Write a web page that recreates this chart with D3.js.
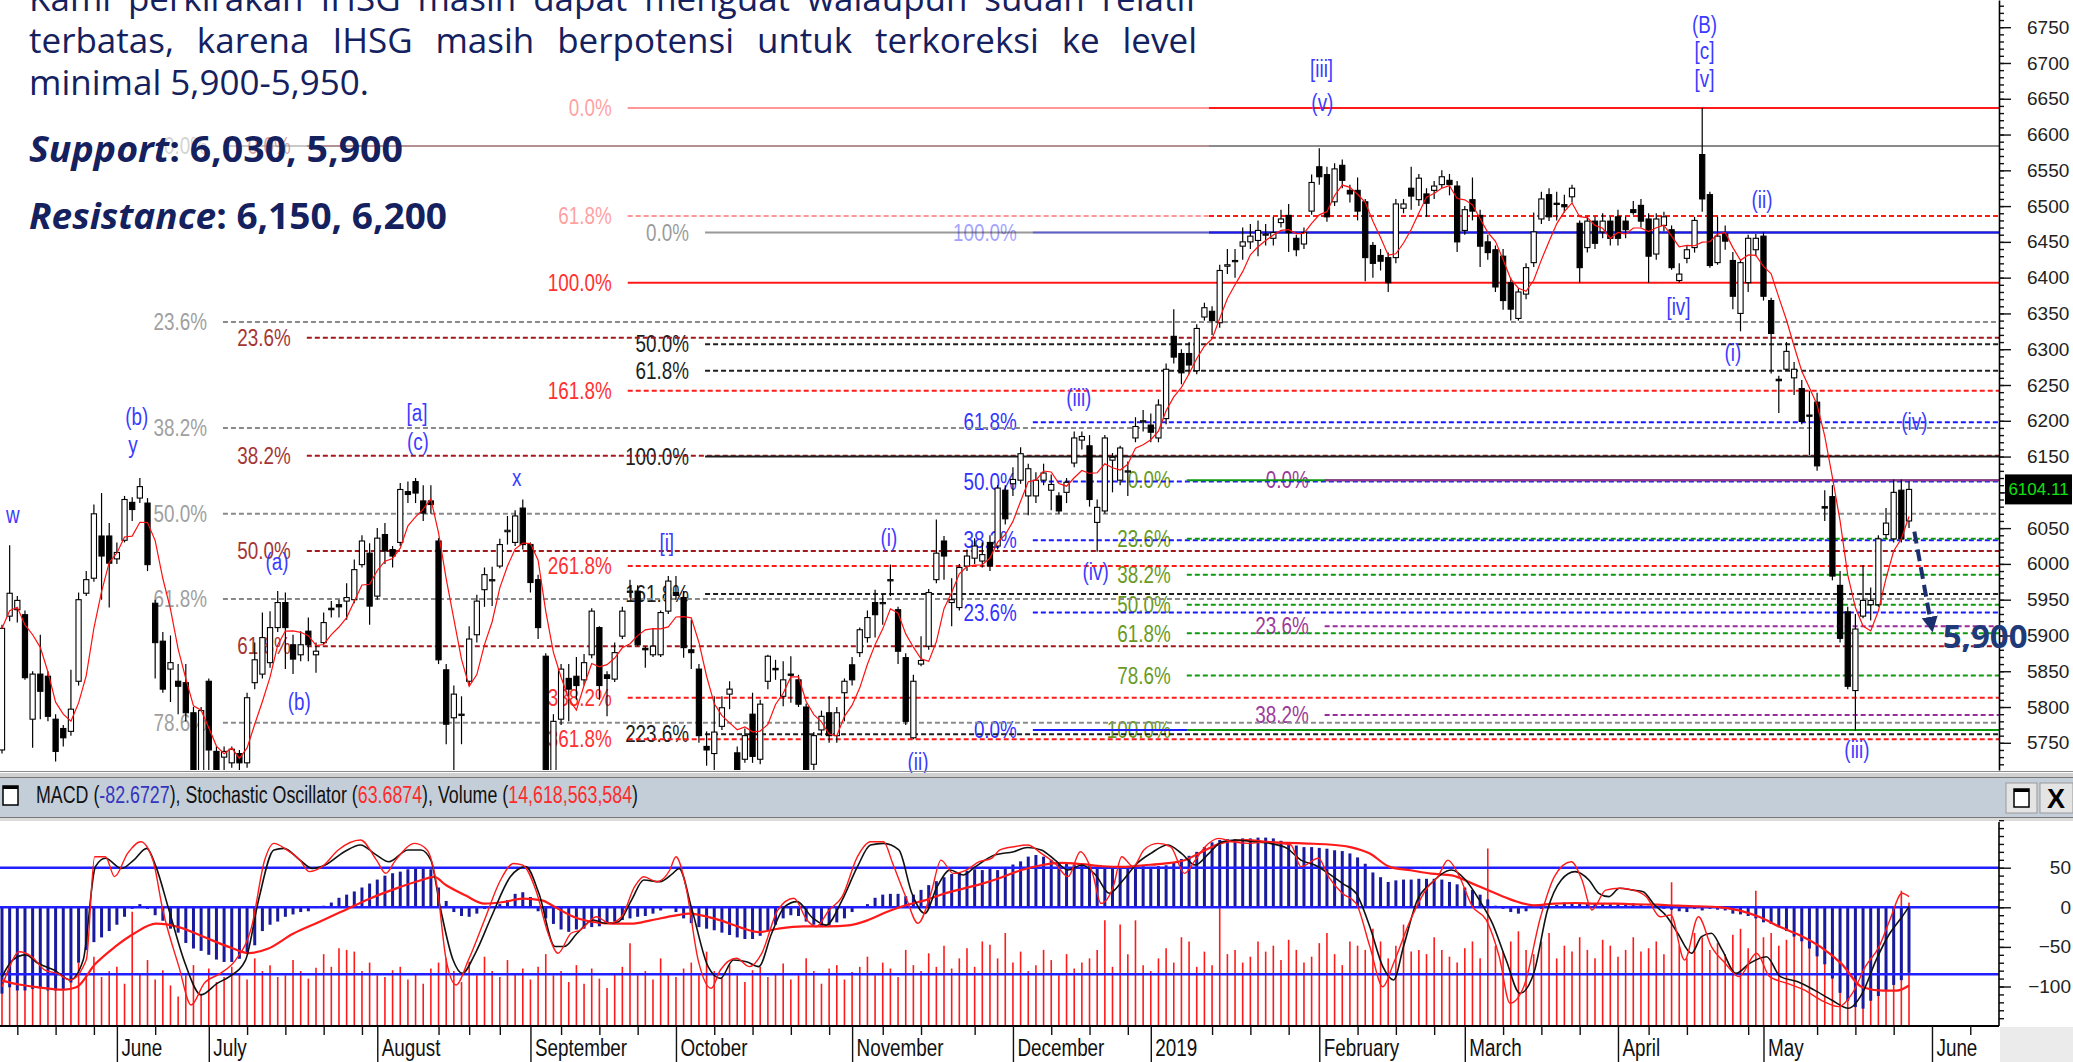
<!DOCTYPE html>
<html>
<head>
<meta charset="utf-8">
<script src="https://cdn.jsdelivr.net/npm/d3@7"></script>
<style>
  body { margin: 0; background: #fff; overflow: hidden; }
  svg { display: block; }
</style>
</head>
<body>
<svg id="chart" width="2073" height="1062"></svg>
<script>
// ---- daily IHSG candles (index 0 = first visible day) ----
const open = [5740,5927,5936,5929,5783,5846,5843,5783,5770,5766,
5836,5959,5980,6039,6039,6007,6033,6086,6092,6085,
5945,5892,5853,5836,5834,5792,5700,5836,5738,5730,
5722,5735,5722,5834,5846,5862,5911,5946,5887,5873,
5906,5873,5890,5938,5943,5948,5950,5999,6015,5955,
6041,6020,6030,6101,6115,6088,6088,6032,5852,5785,
5790,5836,5901,5964,5977,5997,6045,6030,6078,6027,
5978,5871,5700,5783,5840,5843,5838,5873,5911,5845,
5839,5899,5962,5962,5882,5873,5873,5934,5960,5953,
5880,5853,5745,5735,5773,5818,5736,5727,5790,5727,
5836,5854,5815,5846,5838,5800,5720,5768,5792,5760,
5820,5859,5876,5897,5946,5945,5978,5936,5869,5757,
5860,5885,5978,6032,5946,5939,5997,6008,6004,6030,
6025,6103,6112,6117,6095,6095,6117,6103,6095,6100,
6141,6173,6165,6058,6074,6145,6117,6130,6176,6199,
6194,6176,6203,6318,6294,6294,6270,6345,6353,6337,
6416,6423,6444,6450,6452,6460,6455,6477,6487,6455,
6447,6493,6555,6544,6506,6557,6522,6522,6506,6445,
6431,6428,6428,6497,6525,6509,6517,6522,6530,6536,
6528,6466,6509,6487,6450,6439,6430,6393,6343,6377,
6421,6482,6516,6504,6502,6513,6476,6442,6479,6464,
6479,6485,6479,6495,6501,6482,6433,6473,6467,6396,
6427,6442,6572,6516,6421,6461,6424,6350,6393,6439,
6458,6368,6258,6272,6260,6245,6208,6226,6080,6094,
5970,5933,5823,5927,5943,5943,6041,6035,6103,6060];

const high = [5915,6026,5955,5935,5850,5901,5850,5790,5775,5852,
5960,5990,6083,6099,6057,6030,6095,6093,6120,6092,
5950,5905,5900,5860,5860,5800,5800,5840,5745,5745,
5745,5740,5820,5890,5932,5934,5962,5960,5901,5906,
5925,5890,5932,5948,5950,5973,6006,6040,6029,6050,
6057,6025,6113,6115,6120,6110,6110,6036,5860,5830,
5815,5913,5957,5995,5996,6035,6067,6075,6090,6030,
5985,5875,5790,5860,5860,5870,5874,5938,5913,5850,
5890,5940,5978,5970,5885,5910,5935,5983,5983,5962,
5922,5860,5766,5815,5815,5836,5745,5770,5820,5810,
5873,5866,5864,5871,5845,5805,5765,5795,5815,5800,
5840,5870,5911,5935,5964,5958,5999,5940,5875,5845,
5899,5965,6062,6039,5980,6000,6020,6036,6030,6040,
6110,6110,6135,6163,6140,6128,6140,6125,6100,6120,
6185,6185,6180,6090,6180,6155,6165,6143,6205,6215,
6210,6230,6280,6356,6300,6310,6335,6365,6360,6418,
6440,6440,6470,6475,6480,6475,6485,6495,6503,6460,
6470,6544,6581,6555,6560,6565,6530,6540,6510,6450,
6440,6435,6510,6510,6555,6545,6525,6535,6550,6545,
6535,6500,6540,6495,6460,6445,6440,6400,6385,6420,
6491,6520,6525,6520,6516,6530,6480,6485,6485,6490,
6485,6495,6485,6507,6510,6490,6490,6492,6473,6420,
6445,6485,6637,6520,6485,6473,6436,6425,6460,6461,
6464,6372,6263,6310,6282,6257,6242,6239,6103,6110,
5990,5940,5930,5998,5967,6040,6078,6118,6118,6115];

const low = [5735,5920,5918,5838,5743,5783,5780,5724,5745,5760,
5830,5955,5975,5950,5939,6000,6030,6060,6085,5990,
5840,5820,5807,5790,5780,5680,5690,5700,5680,5705,
5715,5700,5715,5825,5840,5855,5905,5853,5846,5864,
5864,5848,5888,5925,5925,5922,5945,5995,5915,5950,
6000,5995,6025,6085,6085,6060,6070,5860,5748,5700,
5748,5830,5890,5940,5941,5994,6027,6025,6020,5960,
5895,5680,5680,5775,5780,5810,5830,5868,5810,5787,
5835,5895,5953,5885,5855,5870,5870,5930,5950,5869,
5853,5750,5718,5710,5768,5797,5700,5722,5722,5720,
5825,5838,5801,5806,5800,5690,5700,5760,5750,5750,
5780,5830,5870,5890,5897,5915,5955,5860,5775,5755,
5857,5880,5973,5978,5913,5935,5990,6000,5995,5990,
6020,6055,6095,6112,6068,6085,6110,6075,6070,6085,
6135,6160,6080,6017,6070,6100,6110,6095,6170,6185,
6170,6170,6195,6280,6251,6265,6265,6340,6320,6330,
6405,6400,6425,6440,6430,6445,6445,6470,6436,6430,
6440,6488,6530,6478,6500,6525,6505,6480,6395,6400,
6410,6380,6420,6490,6495,6500,6485,6510,6525,6515,
6436,6460,6480,6415,6425,6380,6355,6340,6340,6370,
6415,6475,6479,6480,6491,6505,6393,6435,6440,6455,
6445,6445,6455,6488,6470,6393,6425,6465,6411,6393,
6420,6435,6492,6414,6418,6439,6356,6325,6380,6430,
6368,6266,6211,6270,6236,6195,6152,6130,6060,5977,
5890,5825,5767,5924,5921,5940,6035,6030,6030,6050];

const close = [5910,5959,5949,5841,5846,5822,5787,5738,5757,5797,
5950,5978,6070,6011,6001,6016,6090,6076,6108,5999,
5890,5825,5862,5829,5792,5700,5795,5740,5700,5738,
5741,5722,5813,5866,5897,5911,5946,5911,5867,5887,
5887,5878,5918,5936,5940,5953,5992,6032,5941,6036,
6018,6011,6104,6097,6099,6071,6083,5866,5776,5818,
5790,5895,5948,5985,5978,6027,6047,6067,6027,5974,
5911,5690,5780,5853,5825,5830,5862,5934,5830,5840,
5876,5934,5962,5887,5880,5885,5932,5976,5956,5883,
5876,5760,5740,5765,5799,5825,5712,5760,5731,5804,
5871,5852,5838,5845,5804,5700,5760,5787,5760,5792,
5836,5838,5908,5925,5929,5946,5978,5878,5780,5836,
5865,5960,6015,6011,5950,5995,6011,6025,6013,5997,
6106,6063,6118,6154,6133,6117,6127,6111,6074,6114,
6176,6178,6090,6079,6176,6149,6162,6130,6192,6200,
6184,6222,6272,6289,6267,6278,6329,6358,6340,6410,
6418,6424,6450,6458,6466,6461,6463,6482,6463,6439,
6463,6533,6541,6485,6552,6536,6517,6493,6428,6420,
6423,6393,6503,6503,6514,6539,6504,6528,6541,6530,
6450,6495,6493,6444,6435,6387,6368,6356,6380,6414,
6464,6510,6485,6503,6499,6525,6414,6479,6448,6479,
6455,6455,6467,6491,6479,6430,6482,6485,6414,6405,
6439,6480,6510,6417,6458,6451,6374,6421,6455,6455,
6374,6322,6256,6297,6272,6199,6207,6137,6078,5983,
5896,5829,5909,5949,5949,6035,6057,6100,6035,6104.11];

// volume, billions of shares
const volume = [6.5,5.8,7.2,6.0,8.1,5.2,6.8,5.5,7.0,6.2,
7.5,6.0,8.2,5.8,6.5,7.0,5.0,13.5,6.2,7.8,
5.5,6.6,4.8,3.5,6.0,7.2,3.8,6.8,5.2,5.8,
7.0,6.2,5.5,8.0,6.5,7.2,5.8,6.0,7.8,6.5,
5.6,6.9,8.5,7.0,9.2,9.0,8.8,6.5,7.5,6.0,
5.8,6.6,7.0,5.5,6.2,5.0,6.8,7.5,8.0,6.5,
5.2,7.6,6.0,8.2,6.5,5.8,7.8,6.2,6.8,5.5,
7.0,8.5,6.0,6.5,5.2,7.2,5.0,6.8,5.6,4.5,
6.2,7.0,9.8,6.0,6.5,5.5,8.0,6.2,5.8,6.8,
7.5,6.0,8.8,6.5,5.8,7.2,6.0,5.2,6.6,7.0,
5.8,6.2,7.4,5.5,6.0,8.0,6.5,5.0,6.8,7.2,
5.5,6.4,7.0,8.2,6.0,7.5,6.8,5.8,9.0,7.2,
6.5,8.6,7.0,9.5,6.8,8.0,9.2,7.0,10.0,9.6,
8.0,11.0,7.5,8.8,6.5,7.2,9.0,7.8,6.0,8.5,
6.8,7.5,8.0,9.0,12.5,7.0,12.0,8.5,12.5,7.2,
6.5,8.0,9.2,7.5,10.5,10.0,7.0,8.8,7.2,14.0,
8.5,9.0,7.5,8.2,10.0,8.8,9.5,7.8,10.2,9.0,
7.5,8.2,9.8,11.0,8.5,7.2,10.0,9.5,9.0,11.5,
10.0,8.0,9.5,12.0,8.8,9.0,8.5,10.5,9.0,8.2,
7.5,9.2,10.0,8.0,21.0,9.5,8.8,10.0,11.2,9.0,
8.5,10.0,11.0,8.0,9.5,8.8,10.5,9.0,8.0,10.2,
9.5,8.2,9.0,10.5,8.8,9.2,10.0,8.5,17.0,9.5,
8.0,11.0,10.5,9.0,9.8,8.5,10.8,11.5,9.2,16.0,
10.5,11.0,9.5,10.2,12.0,11.5,10.0,12.5,13.0,11.8,
12.0,13.5,14.0,11.0,12.5,10.0,13.0,12.0,16.0,14.6];

// MACD line, drawn as bars
const macd = [-109,-101,-105,-105,-103,-101,-105,-105,-103,-95,
-70,-54,-44,-38,-30,-22,-12,-2,4,-2,
-10,-17,-27,-32,-45,-52,-55,-60,-66,-69,
-69,-65,-58,-48,-30,-22,-18,-12,-9,-6,
-5,-1,2,6,12,16,20,25,30,35,
40,43,45,48,50,50,48,25,8,-6,
-11,-12,-8,-2,0,4,9,17,19,13,
-5,-14,-21,-28,-31,-28,-27,-25,-24,-21,
-18,-16,-14,-12,-11,-8,-4,0,-6,-14,
-20,-25,-27,-29,-32,-35,-38,-40,-40,-36,
-29,-22,-14,-10,-11,-18,-22,-25,-23,-19,
-14,-6,0,4,12,16,17,17,14,16,
22,28,33,38,42,44,46,48,47,50,
47,51,54,58,64,66,64,60,57,55,
54,53,52,51,51,51,52,51,51,52,
51,52,53,57,61,65,70,76,82,85,
86,86,87,87,88,88,87,84,80,78,
76,76,75,74,72,71,68,63,55,44,
38,32,34,35,35,36,36,36,35,32,
29,25,22,16,10,2,-2,-6,-8,-5,
0,-2,1,3,6,5,5,5,5,5,
4,4,5,5,4,2,0,-2,-3,-5,
-6,-2,-4,-2,-3,-4,-8,-9,-11,-14,
-19,-21,-25,-30,-37,-43,-52,-62,-72,-90,
-108,-118,-126,-128,-118,-112,-105,-98,-92,-82.67];

// MACD signal line, [day index, value]
const macdSignal = [[0,-92.5],[2.2,-97.5],[4.7,-101],[8.1,-104],[9.7,-101],[12.2,-71.4],[14.7,-50.3],[17.2,-33.4],[20.1,-20.7],[23.1,-25],[26.4,-37.6],[29.7,-50.3],[32.2,-57.9],[34.7,-52.4],[38,-33.4],[41.4,-18.6],[44.7,-3.9],[48,10.9],[51.4,23.6],[54.7,34.1],[56.4,38.3],[58,27.8],[60.5,15.1],[63,4.6],[65.5,6.7],[68,10.9],[70.5,8.8],[72.2,0.3],[74.7,-12.3],[77.2,-18.6],[79.7,-20.7],[82.2,-20.7],[84.7,-16.5],[88,-10.2],[89.7,-8.1],[91.3,-10.2],[93.8,-16.5],[96.3,-25],[98.8,-31.3],[101.3,-27.1],[104.6,-24.1],[108,-24.1],[110.5,-22.9],[113,-16.5],[115.5,-6],[118,2.5],[120.5,8.8],[123,17.2],[125.5,23.6],[128,29.9],[130.3,37],[133,46.8],[135.7,53.1],[138.3,56],[141,54.4],[143.7,51.8],[146.4,51],[149.1,53.1],[151.7,55.2],[154.4,59.5],[157.1,72.1],[159.8,82.6],[162.5,84.7],[165.2,82.6],[167.8,81.4],[170.5,80.5],[173.2,79.3],[175.9,76.3],[178.6,67.9],[181.2,51],[183.9,46.8],[186.6,42.5],[189.3,40.4],[192,29.9],[194.6,19.3],[197.3,8.8],[200,2.5],[202.7,4.6],[205.4,5.4],[208.1,4.6],[210.7,4.6],[213.4,3.7],[216.1,3.3],[218.8,2],[221.5,1.2],[224.1,0.3],[226.8,-3.9],[229.5,-12.3],[232.2,-25],[234.8,-35.5],[237.5,-50.3],[240.2,-71.4],[242.9,-100.9],[245.6,-105.1],[247.4,-105.1],[249,-98.7]];

// stochastic oscillator, [day index, value 0-100]
const stochSlow = [[0,18.7],[1.4,28],[3.1,30.9],[4.7,26.2],[6.8,22.4],[8.9,16.8],[10.6,28],[12.2,80.6],[13.5,85.3],[15.6,79.6],[17.2,84.3],[18.9,90.9],[20.1,80.6],[21.8,56.2],[23.9,26.2],[26,8.4],[28.1,14.9],[29.7,18.7],[31.8,28],[33.5,61.8],[35.5,90],[36.8,90.9],[38.9,84.3],[40.5,79.6],[42.2,81.5],[44.7,89],[46.8,92.8],[48.9,87.1],[50.5,83.4],[53,90],[54.7,90],[56,84.3],[57.2,58.1],[58.9,28],[60.1,20.5],[61.8,31.8],[63.9,52.4],[66.4,75],[68.4,80.6],[70.1,65.6],[72.2,35.6],[73.4,35.6],[75.1,43.1],[77.2,50.6],[78.8,48.7],[80.5,49.6],[82.2,61.8],[83.8,73.1],[85.9,72.1],[87.6,76.8],[88.4,79.6],[90.1,56.2],[92.2,24.3],[93.8,17.7],[95.5,28],[97.2,27.1],[98.8,24.3],[100.5,43.1],[102.2,58.1],[103.8,60.9],[105.9,51.5],[107.6,47.7],[109.7,61.8],[111.7,80.6],[113.4,92.8],[115.1,93.7],[117.1,90],[118.8,65.6],[120.5,54.3],[122.1,69.3],[123.8,78.7],[125.5,75.9],[127.1,80.6],[129.6,87.1],[132.1,89],[133.9,91.4],[135.7,90],[137.5,84.3],[139.2,78.7],[141,81.5],[142.8,75.9],[144.6,65.6],[146.4,73.1],[148.2,82.4],[150,88.1],[152.2,92.8],[154,88.1],[155.8,81.5],[157.6,88.1],[159.3,94.6],[161.1,95.6],[163.4,94.6],[165.6,93.7],[167.8,90.9],[169.6,84.3],[171.4,81.5],[173.2,76.8],[175,71.2],[176.8,65.6],[178.6,46.8],[180.3,24.3],[181.7,16.8],[183,35.6],[184.8,61.8],[186.6,71.2],[189.3,78.7],[191.1,73.1],[192.9,61.8],[194.6,48.7],[196.4,28],[198.2,9.3],[200,20.5],[201.8,56.2],[203.6,73.1],[205.4,77.8],[207.2,73.1],[208.5,65.6],[209.8,63.7],[211.2,68.4],[213,67.4],[214.3,66.5],[215.6,59.9],[217.4,52.4],[218.8,43.1],[220.6,31.8],[221.9,41.2],[223.2,43.1],[224.6,33.7],[226.4,20.5],[228.2,26.2],[230.4,29.9],[232.2,18.7],[234.4,15.9],[236.6,11.2],[238.9,5.5],[241.1,0.9],[242.9,9.3],[244.7,28],[246.5,43.1],[248.1,52.4],[249,58.1]];
const stochFast = [[0,13],[1,24.3],[2.2,32.7],[3.9,29.9],[5.6,22.4],[7.2,20.5],[8.9,16.8],[11,28],[12.1,86.2],[13.5,86.2],[14.7,75],[16.4,88.1],[18.1,94.6],[19.7,84.3],[21,56.2],[23.1,24.3],[24.7,2.7],[26.4,14.9],[28.5,20.5],[30.5,28],[32.6,46.8],[34.3,84.3],[35.5,93.7],[37.2,90],[38.9,84.3],[40.1,77.8],[41.8,80.6],[43.9,90],[46.8,95.6],[48.9,84.3],[50.1,76.8],[51.4,84.3],[53.9,93.7],[55.5,90],[56.8,69.3],[58,28],[59.3,14],[60.9,28],[63,50.6],[65.1,73.1],[66.8,82.4],[68,81.5],[69.7,67.4],[71.3,43.1],[72.6,31.8],[74.3,43.1],[75.5,44.9],[77.6,52.4],[79.3,48.7],[80.9,52.4],[82.6,69.3],[83.8,74.9],[85.5,72.1],[87.2,78.7],[88,86.2],[89.3,69.3],[90.9,28],[92.6,12.1],[93.8,22.4],[95.9,29],[97.6,24.3],[99.2,31.8],[101.3,56.2],[103.4,62.8],[105.1,50.6],[106.3,46.8],[108,56.2],[109.7,63.7],[111.7,86.2],[113.4,94.6],[115.1,94.6],[116.3,82.4],[118,63.7],[119.6,48.7],[121.3,65.6],[122.6,84.3],[124.2,76.8],[125.9,78.7],[127.6,83.4],[129.2,85.3],[130.3,90],[132.1,91.8],[133.9,92.8],[135.7,88.1],[137.5,82.4],[139.2,75],[140.8,89],[142.4,76.8],[143.5,59.9],[145.1,69.3],[146.2,86.2],[147.7,80.6],[149.1,90],[150.9,93.7],[152.6,91.8],[154.4,76.8],[155.8,84.3],[157.1,91.8],[158.9,96.5],[160.7,94.6],[162.9,93.7],[165.2,94.6],[166.9,93.7],[168.3,92.8],[169.6,80.6],[171.9,85.3],[173.2,75],[175,65.6],[176.8,59.9],[178.6,35.6],[180.3,13],[181.7,26.2],[183.9,50.6],[186.2,69.3],[187.5,75],[188.8,84.3],[190.2,75.9],[192,58.1],[193.8,50.6],[195.5,29.9],[196.9,3.7],[198.7,13],[200.9,52.4],[202.7,75],[204.9,83.4],[206.3,73.1],[207.6,56.2],[209.4,67.4],[211.2,68.4],[213,67.4],[214.7,63.7],[216.5,52.4],[217.9,53.4],[219.7,28],[221.5,52.4],[223.2,35.6],[225,26.2],[226.8,18.7],[229.1,31.8],[230.8,18.7],[233.1,14.9],[235.3,11.2],[237.5,5.5],[239.8,1.8],[241.6,9.3],[243.3,24.3],[245.1,35.6],[246.5,50.6],[248.1,65.6],[249,63.7]];

// fibonacci levels [label, price]
const grayLevels = [["0.0%",6584],["23.6%",6338],["38.2%",6190],["50.0%",6070],["61.8%",5951],["78.6%",5778]];
const darkRedLevels = [["0.0%",6584],["23.6%",6316],["38.2%",6151],["50.0%",6018],["61.8%",5885]];
const redLevels = [["0.0%",6637],["61.8%",6486],["100.0%",6393],["161.8%",6242],["261.8%",5997],["338.2%",5813],["361.8%",5755]];
const blackLevels = [["0.0%",6463],["50.0%",6307],["61.8%",6270],["100.0%",6150],["161.8%",5958],["223.6%",5762]];
const blueLevels = [["100.0%",6463],["61.8%",6198],["50.0%",6115],["38.2%",6033],["23.6%",5932],["0.0%",5768]];
const greenLevels = [["0.0%",6117],["23.6%",6035],["38.2%",5985],["50.0%",5943],["61.8%",5903],["78.6%",5844],["100.0%",5768]];
const purpleLevels = [["0.0%",6117],["23.6%",5913],["38.2%",5789]];

// elliott wave labels [text, day index, price]
const waveLabels = [["w",1.4,6068],["(b)",17.6,6205],["y",17.1,6166],["[a]",54.2,6211],["(c)",54.3,6170],
  ["(a)",35.9,6003],["(b)",38.8,5808],["x",67.2,6120],["[i]",86.8,6029],["(i)",115.8,6036],["(ii)",119.6,5723],
  ["(iii)",140.6,6232],["(iv)",142.8,5989],["[iii]",172.3,6692],["(v)",172.4,6644],["(B)",222.3,6754],
  ["[c]",222.3,6717],["[v]",222.3,6678],["(ii)",229.8,6509],["[iv]",218.9,6359],["(i)",226,6295],
  ["(iv)",249.7,6198],["(iii)",242.2,5740]];

const monthNames = ["June","July","August","September","October","November","December","2019","February","March","April","May","June"];
const monthStart = [15,27,49,69,88,111,132,150,172,191,211,230,252];
const weekStart = [2,7,12,20,32,37,42,47,57,61,65,73,78,83,93,98,103,108,115,120,127,137,142,147,158,163,168,177,182,187,196,201,206,215,220,228,237,242,247,257];

const priceTicks = d3.range(5750, 6751, 50);
const lowTicks = [-100, -50, 0, 50];

// ---- layout ----
const svg = d3.select('#chart');
const axisX = 1999;
const priceBottom = 770, lowTop = 822, lowBottom = 1026;
const N = close.length;

const x = d3.scaleLinear().domain([0, N - 1]).range([2, 1909]);
const y = d3.scaleLinear().domain([5712, 6788]).range([priceBottom, 0]);
const macdY = d3.scaleLinear().domain([-100, 50]).range([986.5, 867.7]);
const stochY = d3.scaleLinear().domain([0, 100]).range([1009.8, 832.2]);
const volY = d3.scaleLinear().domain([0, 22]).range([lowBottom, 840]);

svg.append('rect').attr('width', 2073).attr('height', 1062).attr('fill', '#fff');

const defs = svg.append('defs');
defs.append('clipPath').attr('id', 'clipPrice').append('rect')
  .attr('x', 0).attr('y', 0).attr('width', axisX).attr('height', priceBottom);
defs.append('clipPath').attr('id', 'clipLow').append('rect')
  .attr('x', 0).attr('y', lowTop).attr('width', axisX).attr('height', lowBottom - lowTop);
defs.append('marker').attr('id', 'arrowHead')
  .attr('viewBox', '0 0 10 10').attr('refX', 5).attr('refY', 5)
  .attr('markerWidth', 4).attr('markerHeight', 4).attr('orient', 'auto')
  .append('path').attr('d', 'M0,0 L10,5 L0,10 z').attr('fill', '#1b2f6e');

const NARROW = 'Liberation Sans, Arial, sans-serif';
function narrow(g, tx, ty, str, opt) {
  return g.append('text')
    .attr('transform', `translate(${tx},${ty}) scale(0.82,1)`)
    .attr('text-anchor', opt.anchor || 'start')
    .attr('dominant-baseline', 'central')
    .attr('font-family', NARROW)
    .attr('font-size', opt.size || 23)
    .attr('fill', opt.fill || '#000')
    .attr('opacity', opt.opacity == null ? 1 : opt.opacity)
    .text(str);
}

// ---- price panel ----
const priceG = svg.append('g').attr('clip-path', 'url(#clipPrice)');
const fibLabelLayer = priceG.append('g');
const fibLineLayer = priceG.append('g');

const fibSets = [
  {levels: darkRedLevels, anchor: 39.8, line: '#a3171b', text: '#a53535'},
  {levels: grayLevels, anchor: 28.85, line: '#8a8a8a', text: '#a0a0a0'},
  {levels: redLevels, anchor: 81.7, line: '#ff1a1a', text: '#ff3030'},
  {levels: blackLevels, anchor: 91.8, line: '#1e1e1e', text: '#1e1e1e'},
  {levels: blueLevels, anchor: 134.6, line: '#1a1aff', text: '#3232ff'},
  {levels: greenLevels, anchor: 154.7, line: '#0e9a0e', text: '#6a9a22'},
  {levels: purpleLevels, anchor: 172.7, line: '#9a2c9a', text: '#9a3a9a'}
];
const fadeIdx = 157.6, fadeFrom = 6463;

fibSets.forEach(set => {
  const x0 = x(set.anchor);
  set.levels.forEach(([pct, p]) => {
    const yy = y(p);
    const solid = pct === '0.0%' || pct === '100.0%';
    const faded = p >= fadeFrom;
    narrow(fibLabelLayer, x0 - 16, yy, pct, {anchor: 'end', fill: set.text, opacity: faded ? 0.45 : 1});
    const segs = faded ? [[x0, x(fadeIdx), 0.45], [x(fadeIdx), axisX, 1]] : [[x0, axisX, 1]];
    segs.forEach(([a, b, op]) => {
      fibLineLayer.append('line')
        .attr('x1', a).attr('x2', b).attr('y1', yy).attr('y2', yy)
        .attr('stroke', set.line).attr('stroke-width', 2).attr('opacity', op)
        .attr('stroke-dasharray', solid ? null : '5,3');
    });
  });
});

// candles
const candles = d3.range(N).map(i => ({i, o: open[i], h: high[i], l: low[i], c: close[i]}));
const candleG = priceG.append('g');
candleG.selectAll('line.wick').data(candles).join('line')
  .attr('class', 'wick')
  .attr('x1', d => x(d.i)).attr('x2', d => x(d.i))
  .attr('y1', d => y(Math.max(d.h, d.o, d.c))).attr('y2', d => y(Math.min(d.l, d.o, d.c)))
  .attr('stroke', '#000').attr('stroke-width', 1.2);
candleG.selectAll('rect.body').data(candles).join('rect')
  .attr('class', 'body')
  .attr('x', d => x(d.i) - 2.6).attr('width', 5.2)
  .attr('y', d => y(Math.max(d.o, d.c)))
  .attr('height', d => Math.max(1.2, Math.abs(y(d.o) - y(d.c))))
  .attr('fill', d => d.c >= d.o ? '#fff' : '#000')
  .attr('stroke', '#000').attr('stroke-width', 1.1);

// 5-day moving average of closes
const ma = close.map((c, i) => d3.mean(close.slice(Math.max(0, i - 4), i + 1)));
priceG.append('path')
  .datum(ma)
  .attr('fill', 'none').attr('stroke', '#ff1010').attr('stroke-width', 1.2)
  .attr('d', d3.line().x((d, i) => x(i)).y(d => y(d)));

// wave labels
const waveG = svg.append('g');
waveLabels.forEach(([t, i, p]) => {
  narrow(waveG, x(i), y(p), t, {anchor: 'middle', fill: '#3b3bff', size: 23});
});

// price axis
const pAxis = svg.append('g').attr('transform', `translate(${axisX},0)`);
pAxis.call(d3.axisRight(y).tickValues(d3.range(5720, 6790, 10)).tickSize(5).tickFormat('').tickSizeOuter(0));
pAxis.select('.domain').remove();
const pAxisMain = svg.append('g').attr('transform', `translate(${axisX},0)`)
  .call(d3.axisRight(y).tickValues(priceTicks).tickSize(12).tickPadding(16).tickSizeOuter(0).tickFormat(d3.format('d')));
pAxisMain.select('.domain').attr('stroke-width', 1.6);
svg.selectAll('.tick line').attr('stroke', '#111').attr('stroke-width', 1.4);
pAxisMain.selectAll('text').attr('font-family', NARROW).attr('font-size', 19).attr('fill', '#222');

// last price box
const lastY = y(close[N - 1]);
svg.append('rect').attr('x', 2005).attr('y', lastY - 15).attr('width', 67).attr('height', 30).attr('fill', '#000');
svg.append('text').attr('x', 2038.5).attr('y', lastY).attr('text-anchor', 'middle')
  .attr('dominant-baseline', 'central').attr('font-family', NARROW).attr('font-size', 17)
  .attr('fill', '#10e010').text(d3.format('.2f')(close[N - 1]));

// target arrow + 5,900
svg.append('line')
  .attr('x1', x(249.7)).attr('y1', y(6045)).attr('x2', x(251.9)).attr('y2', y(5915))
  .attr('stroke', '#1b2f6e').attr('stroke-width', 4).attr('stroke-dasharray', '12,6')
  .attr('marker-end', 'url(#arrowHead)');
svg.append('text').attr('x', x(253.4)).attr('y', y(5900)).attr('dominant-baseline', 'central')
  .attr('font-family', 'Open Sans, sans-serif').attr('font-weight', 700).attr('font-size', 33)
  .attr('fill', '#1f3a78').text('5,900');

// ---- commentary text ----
const navy = '#14215e';
const textG = svg.append('g').attr('font-family', 'Open Sans, sans-serif').attr('fill', navy);
function justify(str, x0, x1, base, size) {
  const words = str.split(' ');
  const nodes = words.map(w => textG.append('text').attr('y', base).attr('font-size', size).text(w));
  const widths = nodes.map(n => n.node().getComputedTextLength());
  const gap = (x1 - x0 - d3.sum(widths)) / (words.length - 1);
  let cx = x0;
  nodes.forEach((n, k) => { n.attr('x', cx); cx += widths[k] + gap; });
}
justify('Kami perkirakan IHSG masih dapat menguat walaupun sudah relatif', 29, 1197, 11, 35);
justify('terbatas, karena IHSG masih berpotensi untuk terkoreksi ke level', 29, 1197, 53, 35);
textG.append('text').attr('x', 29).attr('y', 95).attr('font-size', 35).text('minimal 5,900-5,950.');

const sup = textG.append('text').attr('x', 29).attr('y', 162).attr('font-size', 36).attr('font-weight', 700)
  .attr('textLength', 374).attr('lengthAdjust', 'spacingAndGlyphs');
sup.append('tspan').attr('font-style', 'italic').text('Support');
sup.append('tspan').text(': 6,030, 5,900');
const res = textG.append('text').attr('x', 29).attr('y', 229).attr('font-size', 36).attr('font-weight', 700)
  .attr('textLength', 418).attr('lengthAdjust', 'spacingAndGlyphs');
res.append('tspan').attr('font-style', 'italic').text('Resistance');
res.append('tspan').text(': 6,150, 6,200');

// ---- separator + indicator header ----
svg.append('line').attr('x1', 0).attr('x2', 2073).attr('y1', 771.5).attr('y2', 771.5).attr('stroke', '#8a8a8a');
svg.append('rect').attr('x', 0).attr('y', 773).attr('width', 2073).attr('height', 4).attr('fill', '#d0d0d0');
svg.append('rect').attr('x', 0).attr('y', 777).attr('width', 2073).attr('height', 40).attr('fill', '#c3ced8');
svg.append('line').attr('x1', 0).attr('x2', 2073).attr('y1', 777.5).attr('y2', 777.5).attr('stroke', '#777');
svg.append('line').attr('x1', 0).attr('x2', 2073).attr('y1', 817.5).attr('y2', 817.5).attr('stroke', '#777');
svg.append('rect').attr('x', 0).attr('y', 818).attr('width', 2073).attr('height', 3).attr('fill', '#dcdcdc');

// small window icon
svg.append('rect').attr('x', 3).attr('y', 786).attr('width', 15).attr('height', 19).attr('fill', '#fff').attr('stroke', '#000').attr('stroke-width', 1.5);
svg.append('rect').attr('x', 3).attr('y', 786).attr('width', 15).attr('height', 3).attr('fill', '#000');

const header = svg.append('text').attr('x', 36).attr('y', 795).attr('dominant-baseline', 'central')
  .attr('font-family', NARROW).attr('font-size', 23)
  .attr('textLength', 602).attr('lengthAdjust', 'spacingAndGlyphs').attr('fill', '#111');
[['MACD (', '#111'], ['-82.6727', '#3535c0'], ['), Stochastic Oscillator (', '#111'], ['63.6874', '#ff2a2a'],
 ['), Volume (', '#111'], ['14,618,563,584', '#ff2a2a'], [')', '#111']]
  .forEach(([t, c]) => header.append('tspan').attr('fill', c).text(t));

// window buttons
svg.append('rect').attr('x', 2006).attr('y', 783).attr('width', 31).attr('height', 30).attr('fill', '#e4e4e4').attr('stroke', '#999');
svg.append('rect').attr('x', 2014).attr('y', 789).attr('width', 15).attr('height', 18).attr('fill', '#fff').attr('stroke', '#000').attr('stroke-width', 1.5);
svg.append('rect').attr('x', 2014).attr('y', 789).attr('width', 15).attr('height', 3).attr('fill', '#000');
svg.append('rect').attr('x', 2040).attr('y', 783).attr('width', 33).attr('height', 30).attr('fill', '#e4e4e4').attr('stroke', '#999');
svg.append('text').attr('x', 2056).attr('y', 799).attr('text-anchor', 'middle').attr('dominant-baseline', 'central')
  .attr('font-family', NARROW).attr('font-size', 27).attr('font-weight', 700).text('X');

// ---- indicator panel ----
const lowG = svg.append('g').attr('clip-path', 'url(#clipLow)');
lowG.selectAll('line.vol').data(volume).join('line')
  .attr('class', 'vol')
  .attr('x1', (d, i) => x(i)).attr('x2', (d, i) => x(i))
  .attr('y1', volY(0)).attr('y2', d => volY(d))
  .attr('stroke', '#ff1a1a').attr('stroke-width', 1.6);
lowG.selectAll('rect.macd').data(macd).join('rect')
  .attr('class', 'macd')
  .attr('x', (d, i) => x(i) - 1.5).attr('width', 3)
  .attr('y', d => Math.min(macdY(0), macdY(d)))
  .attr('height', d => Math.abs(macdY(d) - macdY(0)))
  .attr('fill', '#1a1a9e');
[stochY(80), macdY(0), stochY(20)].forEach(v => {
  lowG.append('line').attr('x1', 0).attr('x2', axisX).attr('y1', v).attr('y2', v)
    .attr('stroke', '#1f1fff').attr('stroke-width', 2.4);
});
lowG.append('path').datum(macdSignal)
  .attr('fill', 'none').attr('stroke', '#ff1a1a').attr('stroke-width', 2.2)
  .attr('d', d3.line().x(d => x(d[0])).y(d => macdY(d[1])).curve(d3.curveMonotoneX));
lowG.append('path').datum(stochSlow)
  .attr('fill', 'none').attr('stroke', '#111').attr('stroke-width', 1.6)
  .attr('d', d3.line().x(d => x(d[0])).y(d => stochY(d[1])).curve(d3.curveMonotoneX));
lowG.append('path').datum(stochFast)
  .attr('fill', 'none').attr('stroke', '#ff1a1a').attr('stroke-width', 1.4)
  .attr('d', d3.line().x(d => x(d[0])).y(d => stochY(d[1])).curve(d3.curveMonotoneX));

// indicator axis
const lAxisMinor = svg.append('g').attr('transform', `translate(${axisX},0)`)
  .call(d3.axisRight(macdY).tickValues(d3.range(-140, 111, 10)).tickSize(5).tickFormat('').tickSizeOuter(0));
lAxisMinor.select('.domain').remove();
const lAxis = svg.append('g').attr('transform', `translate(${axisX},0)`)
  .call(d3.axisRight(macdY).tickValues(lowTicks).tickSize(12).tickSizeOuter(0));
lAxis.select('.domain').attr('d', `M0,${lowTop}V${lowBottom}`).attr('stroke-width', 1.6);
lAxis.selectAll('text').attr('x', 72).attr('text-anchor', 'end')
  .attr('font-family', NARROW).attr('font-size', 19).attr('fill', '#222');
svg.selectAll('.tick line').attr('stroke', '#111').attr('stroke-width', 1.4);

// ---- time axis ----
svg.append('rect').attr('x', axisX + 1).attr('y', lowBottom + 1).attr('width', 74).attr('height', 36).attr('fill', '#ebebeb');
const tAxis = svg.append('g').attr('transform', `translate(0,${lowBottom})`);
tAxis.call(d3.axisBottom(x).tickValues(weekStart).tickSize(9).tickFormat('').tickSizeOuter(0));
tAxis.select('.domain').attr('d', `M0,0H${axisX}`).attr('stroke-width', 2);
const mAxis = svg.append('g').attr('transform', `translate(0,${lowBottom})`)
  .call(d3.axisBottom(x).tickValues(monthStart).tickSize(36).tickSizeOuter(0)
    .tickFormat((d, k) => monthNames[k]));
mAxis.select('.domain').remove();
mAxis.selectAll('.tick line').attr('stroke', '#111').attr('stroke-width', 1.4);
tAxis.selectAll('.tick line').attr('stroke', '#111').attr('stroke-width', 1.4);
mAxis.selectAll('.tick text').each(function () {
  const t = d3.select(this);
  t.attr('x', null).attr('y', null).attr('dy', null)
    .attr('transform', 'translate(4,22) scale(0.82,1)')
    .attr('text-anchor', 'start').attr('dominant-baseline', 'central')
    .attr('font-family', NARROW).attr('font-size', 23).attr('fill', '#111');
});
</script>
</body>
</html>
